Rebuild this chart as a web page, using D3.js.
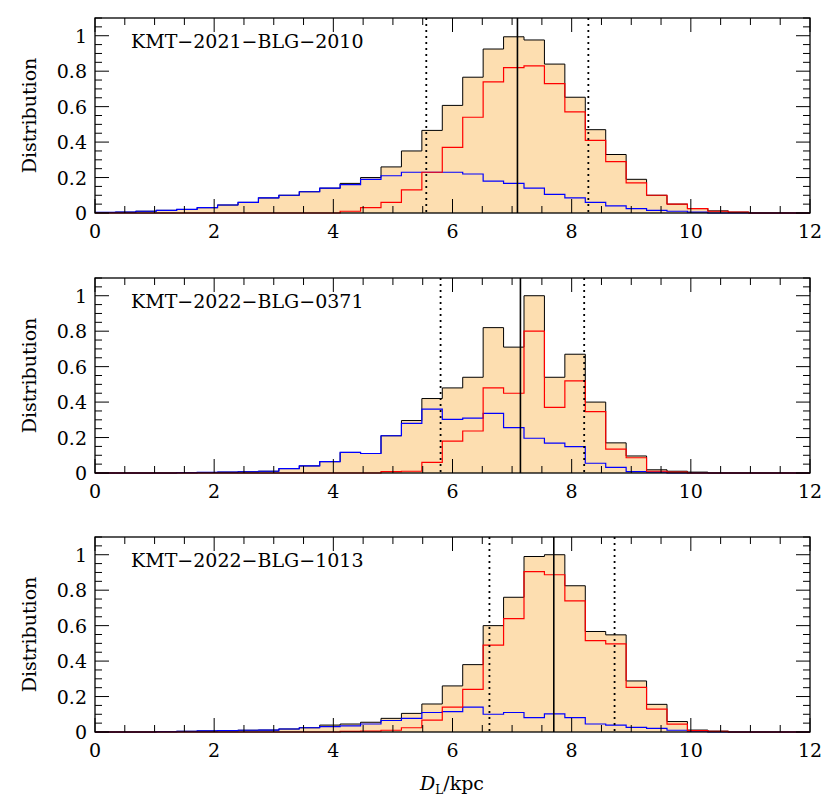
<!DOCTYPE html>
<html><head><meta charset="utf-8">
<script src="https://cdn.jsdelivr.net/npm/d3@7"></script>
<style>body{margin:0;background:#fff}</style>
</head><body>
<script>
const nBins = 35, xMax = 12;
const titles = ["KMT\u22122021\u2212BLG\u22122010","KMT\u22122022\u2212BLG\u22120371","KMT\u22122022\u2212BLG\u22121013"];
const total1 = [0.003,0.005,0.01,0.015,0.02,0.03,0.045,0.06,0.085,0.10,0.12,0.14,0.167,0.20,0.26,0.35,0.466,0.607,0.766,0.925,0.994,0.976,0.84,0.653,0.47,0.33,0.19,0.10,0.05,0.025,0.012,0.005,0,0,0];
const red1   = [0,0,0,0,0,0,0,0,0,0,0,0,0.01,0.03,0.06,0.13,0.23,0.37,0.54,0.74,0.82,0.83,0.73,0.57,0.41,0.29,0.17,0.10,0.05,0.025,0.01,0.005,0,0,0];
const blue1  = [0.003,0.005,0.01,0.015,0.02,0.03,0.045,0.06,0.085,0.10,0.12,0.14,0.16,0.19,0.21,0.23,0.23,0.23,0.22,0.18,0.167,0.14,0.105,0.085,0.06,0.04,0.025,0.015,0.01,0.005,0,0,0,0,0];
const total2 = [0,0,0,0,0.002,0.003,0.005,0.007,0.01,0.025,0.04,0.064,0.116,0.11,0.21,0.296,0.42,0.48,0.54,0.82,0.71,1.0,0.54,0.67,0.40,0.17,0.096,0.018,0.01,0.005,0,0,0,0,0];
const red2   = [0,0,0,0,0,0,0,0,0,0,0,0,0,0,0.008,0.01,0.06,0.18,0.237,0.48,0.45,0.80,0.37,0.52,0.346,0.135,0.086,0.01,0.005,0,0,0,0,0,0];
const blue2  = [0,0,0,0,0.002,0.003,0.005,0.007,0.01,0.025,0.04,0.064,0.116,0.11,0.21,0.28,0.36,0.303,0.31,0.336,0.256,0.196,0.168,0.149,0.055,0.032,0.008,0.005,0,0,0,0,0,0,0];
const total3 = [0,0,0,0.002,0.004,0.006,0.008,0.01,0.011,0.017,0.024,0.039,0.045,0.055,0.077,0.105,0.158,0.26,0.38,0.60,0.76,0.99,1.0,0.825,0.567,0.548,0.288,0.156,0.059,0.011,0.005,0,0,0,0];
const red3   = [0,0,0,0,0,0,0,0,0,0,0,0,0.003,0.005,0.01,0.024,0.067,0.14,0.24,0.49,0.64,0.905,0.887,0.74,0.516,0.497,0.252,0.129,0.044,0.008,0.004,0,0,0,0];
const blue3  = [0,0,0,0.002,0.004,0.006,0.008,0.01,0.011,0.017,0.024,0.03,0.035,0.045,0.065,0.077,0.11,0.115,0.14,0.10,0.11,0.081,0.102,0.081,0.045,0.039,0.026,0.021,0.01,0.005,0,0,0,0,0];
const medians = [7.09,7.14,7.70];
const lows = [5.56,5.80,6.62];
const highs = [8.28,8.21,8.72];
const xTicks = [0,2,4,6,8,10,12];
const yTicks = [0,0.2,0.4,0.6,0.8,1];
const totals=[total1,total2,total3], reds=[red1,red2,red3], blues=[blue1,blue2,blue3];

const W=830,H=806, left=95,right=810, tops=[18,278,537], ph=195;
const svg=d3.select("body").append("svg").attr("width",W).attr("height",H);
const font="'DejaVu Serif', serif";
const x=d3.scaleLinear().domain([0,xMax]).range([left,right]);
const bw=xMax/nBins;
function stepPts(vals){const p=[];vals.forEach((v,i)=>{p.push([i*bw,v]);p.push([(i+1)*bw,v]);});return p;}
[0,1,2].forEach(k=>{
  const t=tops[k];
  const y=d3.scaleLinear().domain([0,1.1]).range([t+ph,t]);
  const g=svg.append("g");
  const pts=stepPts(totals[k]);
  g.append("path").datum(pts).attr("fill","#fddeb0").attr("stroke","none")
    .attr("d",d3.area().x(d=>x(d[0])).y0(y(0)).y1(d=>y(d[1])));
  const line=d3.line().x(d=>x(d[0])).y(d=>y(d[1]));
  g.append("path").datum(pts).attr("fill","none").attr("stroke","#000").attr("stroke-width",1).attr("d",line);
  g.append("path").datum(stepPts(blues[k])).attr("fill","none").attr("stroke","#0000ff").attr("stroke-width",1.2).attr("d",line);
  g.append("path").datum(stepPts(reds[k])).attr("fill","none").attr("stroke","#ff0000").attr("stroke-width",1.2).attr("d",line);
  [lows[k],highs[k]].forEach(v=>g.append("line").attr("x1",x(v)).attr("x2",x(v)).attr("y1",t).attr("y2",t+ph)
     .attr("stroke","#000").attr("stroke-width",1.8).attr("stroke-dasharray","2,4"));
  g.append("line").attr("x1",x(medians[k])).attr("x2",x(medians[k])).attr("y1",t).attr("y2",t+ph).attr("stroke","#000").attr("stroke-width",1.6);
  // frame
  g.append("rect").attr("x",left).attr("y",t).attr("width",right-left).attr("height",ph).attr("fill","none").attr("stroke","#000").attr("stroke-width",1.3);
  // x ticks
  d3.range(0,xMax+0.001,0.5).forEach(v=>{
    const L=(Math.abs(v/2-Math.round(v/2))<1e-6)?14:7;
    g.append("line").attr("x1",x(v)).attr("x2",x(v)).attr("y1",t+ph).attr("y2",t+ph-L).attr("stroke","#000");
    g.append("line").attr("x1",x(v)).attr("x2",x(v)).attr("y1",t).attr("y2",t+L).attr("stroke","#000");
  });
  d3.range(0,1.1001,0.05).forEach(v=>{
    const L=(Math.abs(v/0.2-Math.round(v/0.2))<1e-6)?14:7;
    g.append("line").attr("x1",left).attr("x2",left+L).attr("y1",y(v)).attr("y2",y(v)).attr("stroke","#000");
    g.append("line").attr("x1",right).attr("x2",right-L).attr("y1",y(v)).attr("y2",y(v)).attr("stroke","#000");
  });
  xTicks.forEach(v=>g.append("text").attr("x",x(v)).attr("y",t+ph+25).attr("text-anchor","middle")
     .attr("font-family",font).attr("font-size",19).text(v));
  yTicks.forEach(v=>g.append("text").attr("x",left-8).attr("y",y(v)+7).attr("text-anchor","end")
     .attr("font-family",font).attr("font-size",19).text(v===0?"0":(v===1?"1":v.toFixed(1))));
  g.append("text").attr("transform",`translate(36,${t+ph/2}) rotate(-90)`).attr("text-anchor","middle")
     .attr("font-family",font).attr("font-size",19).text("Distribution");
  g.append("text").attr("x",131).attr("y",t+30).attr("font-family",font).attr("font-size",19).text(titles[k]);
});
const xl=svg.append("text").attr("x",452).attr("y",790).attr("text-anchor","middle").attr("font-family",font).attr("font-size",19);
xl.append("tspan").attr("font-style","italic").text("D");
xl.append("tspan").attr("font-size",12).attr("dy",4).text("L");
xl.append("tspan").attr("dy",-4).text("/kpc");
</script>
</body></html>
